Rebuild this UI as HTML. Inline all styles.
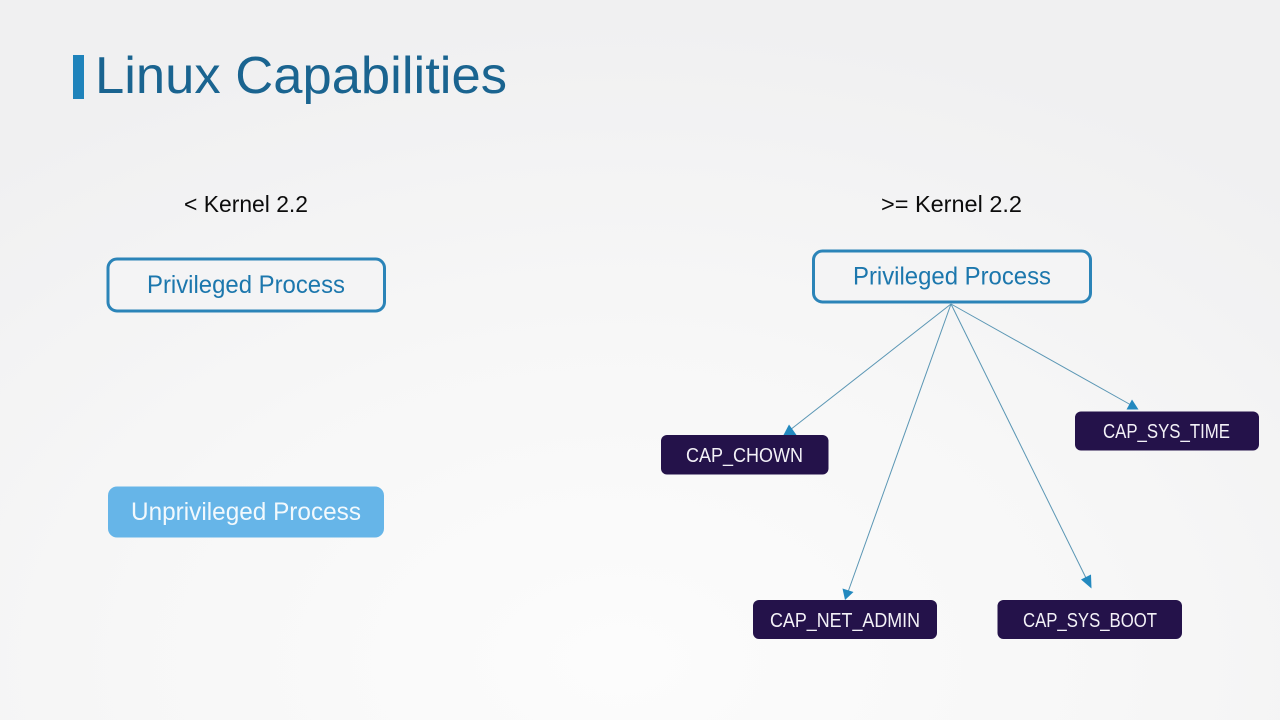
<!DOCTYPE html>
<html lang="en">
<head>
<meta charset="utf-8">
<title>Linux Capabilities</title>
<style>
html,body{margin:0;padding:0;width:1280px;height:720px;overflow:hidden;background:#f1f1f2}
svg{display:block;position:absolute;left:0;top:0}
text{font-family:"Liberation Sans","DejaVu Sans",sans-serif}
</style>
</head>
<body>
<svg width="1280" height="720" viewBox="0 0 1280 720" xmlns="http://www.w3.org/2000/svg">
<defs>
<radialGradient id="bg" gradientUnits="userSpaceOnUse" cx="620" cy="660" r="680" gradientTransform="translate(620 660) scale(1.45 0.95) translate(-620 -660)">
<stop offset="0" stop-color="#fcfcfc"/>
<stop offset="0.5" stop-color="#f7f7f7"/>
<stop offset="1" stop-color="#f0f0f1"/>
</radialGradient>
</defs>
<rect width="1280" height="720" fill="url(#bg)"/>

<rect x="73" y="55" width="11" height="44" fill="#1f83bb"/>
<text x="95" y="93" font-size="52" fill="#1a6490" textLength="412" lengthAdjust="spacingAndGlyphs">Linux Capabilities</text>

<text x="184" y="212" font-size="23" fill="#0c0c0c" textLength="124" lengthAdjust="spacingAndGlyphs">&lt; Kernel 2.2</text>
<text x="881" y="212" font-size="23" fill="#0c0c0c" textLength="141" lengthAdjust="spacingAndGlyphs">&gt;= Kernel 2.2</text>

<rect x="108" y="259" width="276.500" height="52" rx="9" fill="#f4f4f5" stroke="#2b84b8" stroke-width="3"/>
<text x="147" y="293" font-size="25" fill="#1c77ad" textLength="198" lengthAdjust="spacingAndGlyphs">Privileged Process</text>

<rect x="108" y="486.500" width="276" height="51" rx="9" fill="#66b5e8"/>
<text x="131" y="520" font-size="25" fill="#f2f9fd" textLength="230" lengthAdjust="spacingAndGlyphs">Unprivileged Process</text>

<rect x="813.500" y="251" width="277" height="51" rx="9" fill="#f4f4f5" stroke="#2b84b8" stroke-width="3"/>
<text x="853" y="284.500" font-size="25" fill="#1c77ad" textLength="198" lengthAdjust="spacingAndGlyphs">Privileged Process</text>

<g stroke="#5a96b4" stroke-width="1" fill="none">
<line x1="951" y1="304" x2="790" y2="430"/>
<line x1="951" y1="304" x2="848" y2="592"/>
<line x1="951" y1="304" x2="1087" y2="580"/>
<line x1="951" y1="304" x2="1131" y2="405"/>
</g>
<g fill="#2389bf">
<polygon points="783.500,435 796.500,435 789,424.500"/>
<polygon points="842.500,588.500 853.500,592 845,600"/>
<polygon points="1081,579.500 1091,574.500 1091.500,588.500"/>
<polygon points="1126.500,409.500 1138.500,409.500 1132,399.500"/>
</g>

<rect x="661" y="435" width="167.500" height="39.500" rx="6" fill="#24124a"/>
<text x="686" y="462" font-size="20" fill="#f3f1f7" textLength="117" lengthAdjust="spacingAndGlyphs">CAP_CHOWN</text>

<rect x="1075" y="411.500" width="184" height="39" rx="6" fill="#24124a"/>
<text x="1103" y="438" font-size="20" fill="#f3f1f7" textLength="127" lengthAdjust="spacingAndGlyphs">CAP_SYS_TIME</text>

<rect x="753" y="600" width="184" height="39" rx="6" fill="#24124a"/>
<text x="770" y="627" font-size="20" fill="#f3f1f7" textLength="150" lengthAdjust="spacingAndGlyphs">CAP_NET_ADMIN</text>

<rect x="997.500" y="600" width="184.500" height="39" rx="6" fill="#24124a"/>
<text x="1023" y="627" font-size="20" fill="#f3f1f7" textLength="134" lengthAdjust="spacingAndGlyphs">CAP_SYS_BOOT</text>
</svg>
</body>
</html>
